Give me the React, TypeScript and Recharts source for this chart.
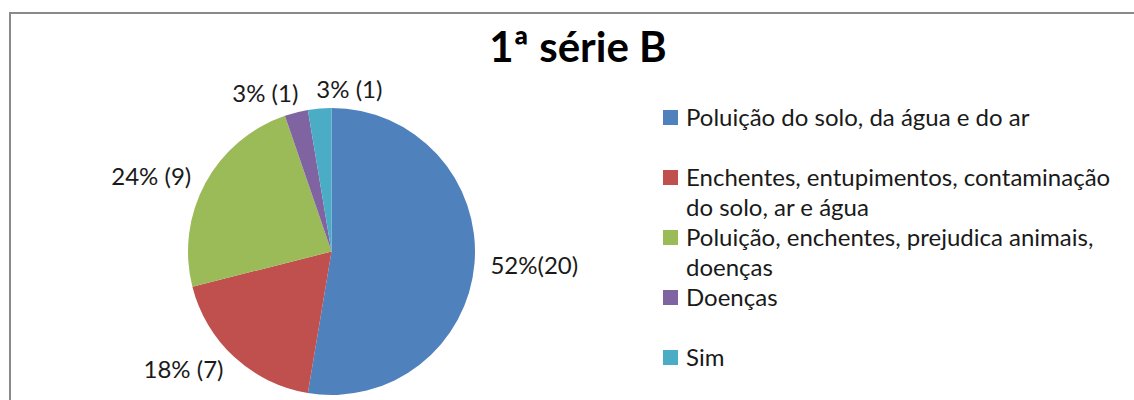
import { PieChart, Pie, Cell, Legend } from 'recharts';

const categories = [
  'Poluição do solo, da água e do ar',
  'Enchentes, entupimentos, contaminação do solo, ar e água',
  'Poluição, enchentes, prejudica animais, doenças',
  'Doenças',
  'Sim',
];
const counts = [20, 7, 9, 1, 1];
const percentLabels = ['52%(20)', '18% (7)', '24% (9)', '3% (1)', '3% (1)'];
const title = '1ª série B';

const COLORS = ['#4F81BD', '#C0504D', '#9BBB59', '#8064A2', '#4BACC6'];
const FONT = 'Lato, "Open Sans", sans-serif';
const RADIAN = Math.PI / 180;

const data = categories.map((name, i) => ({ name, value: counts[i], label: percentLabels[i] }));

// rótulo fora da fatia, ancorado pelo lado
const renderLabel = (props: any) => {
  const { cx, cy, midAngle, outerRadius, index } = props;
  const r = outerRadius + 16;
  const cos = Math.cos(-midAngle * RADIAN);
  const sin = Math.sin(-midAngle * RADIAN);
  const anchor = cos > -0.15 ? 'start' : 'end';
  // os rótulos do topo se afastam um do outro
  const nudge = Math.abs(cos) < 0.3 ? (anchor === 'end' ? 6 : -2) : 0;
  const x = cx + r * cos + nudge;
  const y = cy + r * sin - (Math.abs(cos) < 0.3 ? 4 : 0);
  return (
    <text
      x={x}
      y={y}
      textAnchor={anchor}
      dominantBaseline="central"
      fill="#1a1a1a"
      fontSize={24}
      fontFamily={FONT}
    >
      {data[index].label}
    </text>
  );
};

const renderLegend = () => (
  <div style={{ fontFamily: FONT, fontSize: 24, color: '#1a1a1a' }}>
    {data.map((d, i) => (
      <div key={d.name} style={{ display: 'flex', height: 60, alignItems: 'flex-start' }}>
        <div
          style={{
            width: 15,
            height: 15,
            background: COLORS[i],
            marginTop: 8,
            marginRight: 8,
            flexShrink: 0,
          }}
        />
        <div style={{ lineHeight: '30px', width: 446 }}>{d.name}</div>
      </div>
    ))}
  </div>
);

export default function App() {
  return (
    <div
      style={{
        position: 'absolute',
        left: 0,
        top: 0,
        width: 1134,
        height: 400,
        overflow: 'hidden',
        background: '#fff',
      }}
    >
      <div
        style={{
          position: 'absolute',
          left: 9,
          top: 12,
          width: 1200,
          height: 500,
          border: '2px solid #8a8a8a',
        }}
      />
      <svg width={1134} height={100} style={{ position: 'absolute', left: 0, top: 0 }}>
        <text x={578} y={62} textAnchor="middle" fontFamily={FONT} fontWeight="bold" fontSize={42} fill="#000">
          {title}
        </text>
      </svg>
      <div style={{ position: 'absolute', left: 0, top: 0 }}>
        <PieChart width={1134} height={400}>
          <Pie
            data={data}
            dataKey="value"
            nameKey="name"
            cx={326.5}
            cy={246.5}
            outerRadius={143.5}
            startAngle={90}
            endAngle={-270}
            stroke="none"
            label={renderLabel}
            labelLine={false}
            isAnimationActive={false}
          >
            {data.map((d, i) => (
              <Cell key={d.name} fill={COLORS[i]} />
            ))}
          </Pie>
          <Legend
            content={renderLegend}
            layout="vertical"
            wrapperStyle={{ position: 'absolute', left: 663, top: 102, width: 470 }}
          />
        </PieChart>
      </div>
    </div>
  );
}
